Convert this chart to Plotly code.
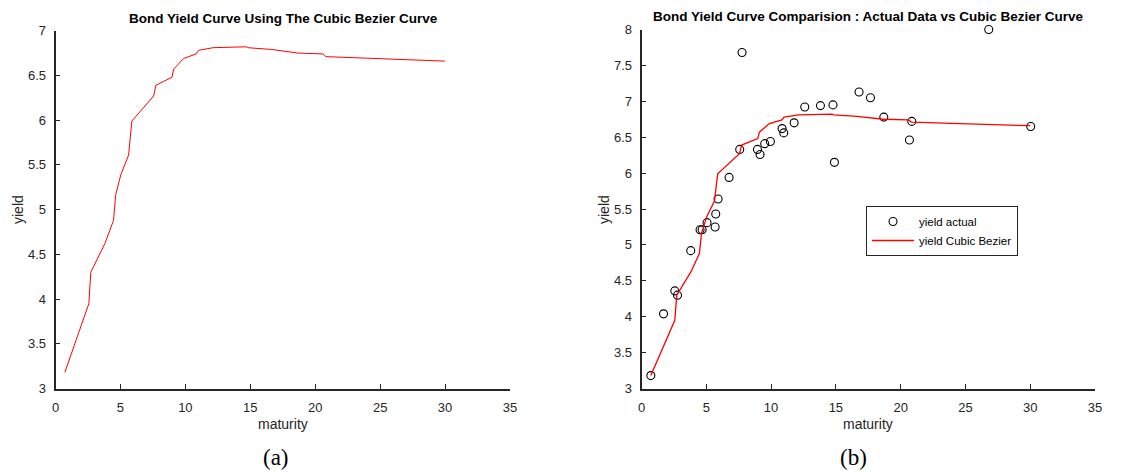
import plotly.graph_objects as go
from plotly.subplots import make_subplots

# Cubic Bezier fitted curve (maturity, yield)
bez_maturity = [0.72, 2.57, 2.72, 3.80, 4.47, 4.63, 5.03, 5.63, 5.88, 7.56, 7.73, 8.97, 9.10,
                9.87, 10.83, 11.00, 12.13, 13.67, 14.70, 14.83, 16.65, 18.66, 20.61, 20.82, 30.0]
bez_yield = [3.18, 3.95, 4.30, 4.62, 4.88, 5.16, 5.39, 5.61, 5.99, 6.27, 6.39, 6.48, 6.57,
             6.69, 6.74, 6.78, 6.81, 6.82, 6.82, 6.81, 6.79, 6.75, 6.74, 6.71, 6.66]

# Actual data
act_maturity = [0.72, 1.70, 2.57, 2.78, 3.80, 4.52, 4.68, 5.06, 5.68, 5.73, 5.91, 6.76, 7.58,
                7.76, 8.95, 9.15, 9.51, 9.95, 10.85, 10.98, 11.78, 12.60, 13.81, 14.78, 14.89,
                16.79, 17.67, 18.70, 20.68, 20.86, 26.80, 30.04]
act_yield = [3.18, 4.04, 4.36, 4.30, 4.92, 5.21, 5.21, 5.31, 5.25, 5.43, 5.64, 5.94, 6.33,
             7.68, 6.33, 6.26, 6.41, 6.44, 6.62, 6.56, 6.70, 6.92, 6.94, 6.95, 6.15,
             7.13, 7.05, 6.78, 6.46, 6.72, 8.00, 6.65]

x_ticks = [0, 5, 10, 15, 20, 25, 30, 35]
y_ticks_a = [3, 3.5, 4, 4.5, 5, 5.5, 6, 6.5, 7]
y_ticks_b = [3, 3.5, 4, 4.5, 5, 5.5, 6, 6.5, 7, 7.5, 8]

# page has an 8px body margin; figure is sized to fit the window
OFF = 8
W, H = 1123 - OFF, 472 - OFF


def xp(px):
    return (px - OFF) / W


def yp(py):
    return 1 - (py - OFF) / H


fig = make_subplots(rows=1, cols=2)

fig.add_trace(go.Scatter(x=bez_maturity, y=bez_yield, mode="lines",
                         line=dict(color="#ff0000", width=1), showlegend=False), row=1, col=1)
fig.add_trace(go.Scatter(x=act_maturity, y=act_yield, mode="markers", name="yield actual",
                         cliponaxis=False,
                         marker=dict(symbol="circle-open", size=8, color="black",
                                     line=dict(width=1.1, color="black"))), row=1, col=2)
fig.add_trace(go.Scatter(x=bez_maturity, y=bez_yield, mode="lines", name="yield Cubic Bezier",
                         line=dict(color="#ff0000", width=1.3)), row=1, col=2)

tickfont = dict(family="Arial, Liberation Sans, sans-serif", size=13, color="#262626")
axcommon = dict(showgrid=False, zeroline=False, showline=True, linecolor="#262626", linewidth=1.8,
                ticks="inside", ticklen=5, tickcolor="#262626", tickwidth=1.2, tickfont=tickfont,
                mirror=False, automargin=False)

fig.update_xaxes(**axcommon, range=[0, 35], tickvals=x_ticks, ticktext=[str(v) for v in x_ticks],
                 ticklabelstandoff=6)
fig.update_yaxes(**axcommon, ticklabelstandoff=5)
fig.update_xaxes(domain=[xp(55.5), xp(510)], row=1, col=1)
fig.update_xaxes(domain=[xp(641.5), xp(1095)], row=1, col=2)
fig.update_yaxes(range=[3, 7], tickvals=y_ticks_a, ticktext=[f"{v:g}" for v in y_ticks_a],
                 domain=[yp(388.5), yp(30.7)], row=1, col=1)
fig.update_yaxes(range=[3, 8], tickvals=y_ticks_b, ticktext=[f"{v:g}" for v in y_ticks_b],
                 domain=[yp(388.5), yp(29.5)], row=1, col=2)

ann = []
tfont = dict(family="Arial, Liberation Sans, sans-serif", size=13.5, color="#000000")
ann.append(dict(text="<b>Bond Yield Curve Using The Cubic Bezier Curve</b>", x=xp(283), y=yp(18),
                xref="paper", yref="paper", showarrow=False, font=tfont, xanchor="center", yanchor="middle"))
ann.append(dict(text="<b>Bond Yield Curve Comparision : Actual Data vs Cubic Bezier Curve</b>",
                x=xp(868), y=yp(16), xref="paper", yref="paper", showarrow=False, font=tfont,
                xanchor="center", yanchor="middle"))
lfont = dict(family="Arial, Liberation Sans, sans-serif", size=14, color="#262626")
for xc in (283, 868):
    ann.append(dict(text="maturity", x=xp(xc), y=yp(424), xref="paper", yref="paper",
                    showarrow=False, font=lfont, xanchor="center", yanchor="middle"))
for xc in (18, 604):
    ann.append(dict(text="yield", x=xp(xc), y=yp(210), xref="paper", yref="paper", textangle=-90,
                    showarrow=False, font=lfont, xanchor="center", yanchor="middle"))
sfont = dict(family="Liberation Serif, Times New Roman, serif", size=23, color="#000000")
ann.append(dict(text="(a)", x=xp(276), y=yp(457), xref="paper", yref="paper", showarrow=False,
                font=sfont, xanchor="center", yanchor="middle"))
ann.append(dict(text="(b)", x=xp(854), y=yp(457), xref="paper", yref="paper", showarrow=False,
                font=sfont, xanchor="center", yanchor="middle"))

fig.update_layout(
    width=W, height=H, margin=dict(l=0, r=0, t=0, b=0, autoexpand=False),
    plot_bgcolor="white", paper_bgcolor="white",
    annotations=ann,
    legend=dict(x=xp(866), y=yp(206), xanchor="left", yanchor="top",
                bordercolor="#262626", borderwidth=1, bgcolor="white",
                font=dict(family="Arial, Liberation Sans, sans-serif", size=11.5, color="#000000"),
                tracegroupgap=0, itemwidth=42),
)

fig.write_html("out.html")
